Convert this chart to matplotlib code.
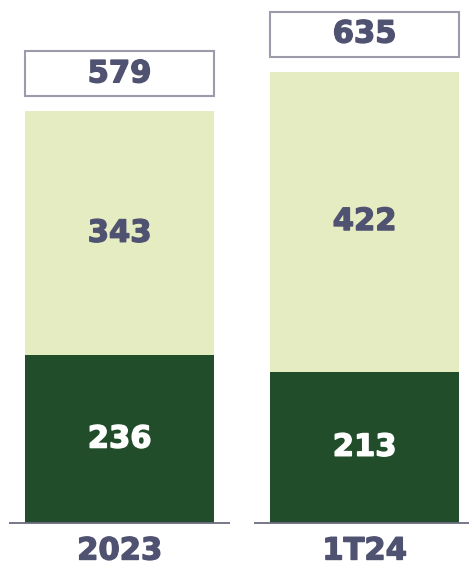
import matplotlib
matplotlib.use("Agg")
import matplotlib.pyplot as plt
import matplotlib.patheffects as pe
from matplotlib.patches import Rectangle

categories = ["2023", "1T24"]
bottom_vals = [236, 213]
top_vals = [343, 422]
totals = [579, 635]

dark = "#214d2b"
light = "#e6ecc2"
txt = "#4f5270"
box_col = "#9b9bab"
base_col = "#6b6d80"

W, H = 469, 571
fig = plt.figure(figsize=(W / 100, H / 100), dpi=100)
base_px = 523
scale = 0.711  # px per unit
ax = fig.add_axes([0, (H - base_px) / H, 1, base_px / H])
ax.set_ylim(0, base_px / scale)
step = 245.0
c0 = 119.5
ax.set_xlim(-c0 / step, 1 + (W - (c0 + step)) / step)
ax.axis("off")

bw = 189 / step
xs = list(range(len(categories)))
ax.bar(xs, bottom_vals, width=bw, color=dark, zorder=2)
ax.bar(xs, top_vals, bottom=bottom_vals, width=bw, color=light, zorder=2)

fs = 22


def fx(c):
    return [pe.withStroke(linewidth=1.0, foreground=c)]


for i in xs:
    ax.text(i, bottom_vals[i] / 2, str(bottom_vals[i]), ha="center", va="center",
            color="white", fontsize=fs, fontweight="bold", zorder=3, path_effects=fx("white"))
    ax.text(i, bottom_vals[i] + top_vals[i] / 2, str(top_vals[i]), ha="center", va="center",
            color=txt, fontsize=fs, fontweight="bold", zorder=3, path_effects=fx(txt))
    gap = 15 / scale
    bh = 45 / scale
    ax.add_patch(Rectangle((i - bw / 2, totals[i] + gap), bw, bh, facecolor="white",
                           edgecolor=box_col, linewidth=1.5, zorder=3, clip_on=False))
    ax.text(i, totals[i] + gap + bh / 2, str(totals[i]), ha="center", va="center",
            color=txt, fontsize=fs, fontweight="bold", zorder=4, path_effects=fx(txt))
    half = 110.5 / step
    ax.plot([i - half, i + half], [0, 0], color=base_col, linewidth=1.3, zorder=4,
            clip_on=False, solid_capstyle="butt")
    ax.text(i, -(551 - base_px) / scale, categories[i], ha="center", va="center",
            color=txt, fontsize=fs, fontweight="bold", clip_on=False, path_effects=fx(txt))

fig.savefig("out.png", dpi=100)
